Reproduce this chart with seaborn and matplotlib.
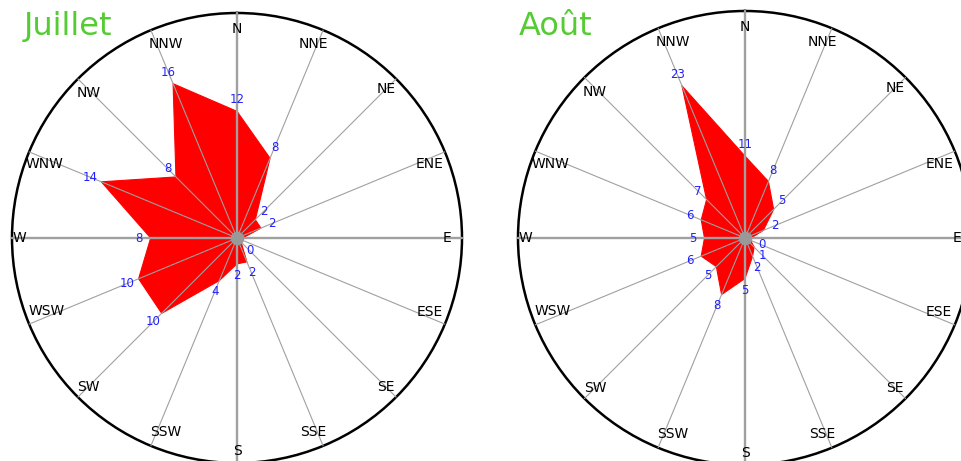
import numpy as np
import pandas as pd
import matplotlib
matplotlib.use("Agg")
import matplotlib.pyplot as plt
import seaborn as sns

# ---- data ----
directions = ["N", "NNE", "NE", "ENE", "E", "ESE", "SE", "SSE",
              "S", "SSW", "SW", "WSW", "W", "WNW", "NW", "NNW"]
juillet = [12, 8, 2, 2, 0, 0, 0, 2, 2, 4, 10, 10, 8, 14, 8, 16]
aout = [11, 8, 5, 2, 0, 0, 1, 2, 5, 8, 5, 6, 5, 6, 7, 23]
titles = ["Juillet", "Août"]

sns.set_theme(style="white")
plt.rcParams['font.family'] = ['DejaVu Sans']

W_PX, H_PX = 961, 461
fig = plt.figure(figsize=(W_PX / 100, H_PX / 100), dpi=100)
fig.patch.set_facecolor("white")

# small pixel nudges for the compass labels (x right, y up)
label_nudge = {"NNW": (9, 0), "SSW": (9, 0), "WSW": (4, 8), "W": (-7, 0),
               "ENE": (-2, -7), "ESE": (-2, 7), "WNW": (2, -7), "NW": (0, -4),
               "NNE": (-4, 0), "SSE": (-4, 0), "S": (0, -3), "N": (0, -1)}


def rose(center, R, k, r0, values, title, title_x):
    cx, cy = center
    rect = [(cx - R) / W_PX, (H_PX - cy - R) / H_PX, 2 * R / W_PX, 2 * R / H_PX]
    ax = fig.add_axes(rect, projection="polar")
    ax.set_theta_zero_location("N")
    ax.set_theta_direction(-1)
    c = r0 / k
    rmax = R / k
    theta = np.deg2rad(np.arange(len(directions)) * 22.5)
    r = np.array(values, dtype=float) + c
    df = pd.DataFrame({"theta": np.append(theta, theta[0]),
                       "r": np.append(r, r[0])})
    ax.fill(df["theta"], df["r"], color="#ff0000", lw=0, zorder=2)
    sns.lineplot(data=df, x="theta", y="r", sort=False, estimator=None,
                 color="#ff0000", lw=0.8, ax=ax, zorder=2)
    n = len(values)
    for i, t in enumerate(theta):
        cardinal = (i % 4 == 0)
        ax.plot([t, t], [0, rmax], color="#a0a0a0",
                lw=1.7 if cardinal else 0.8, zorder=3, clip_on=False)
        dx, dy = label_nudge.get(directions[i], (0, 0))
        ax.annotate(directions[i], xy=(t, rmax * 0.935), xytext=(dx * 0.72, dy * 0.72),
                    textcoords="offset points", ha="center", va="center",
                    fontsize=10, color="black", zorder=5, annotation_clip=False)
        show = values[i] > 0 or values[(i + 1) % n] > 0
        if show:
            ax.text(t, r[i] + 12 / k, str(values[i]), color="#2020ff",
                    fontsize=8.5, ha="center", va="center", zorder=4)
    ax.scatter([0], [0], s=95, color="#999999", zorder=6, clip_on=False,
               linewidths=0)
    ax.set_ylim(0, rmax)
    ax.set_xticks([])
    ax.set_yticks([])
    ax.grid(False)
    ax.set_xlabel("")
    ax.set_ylabel("")
    ax.spines["polar"].set_color("black")
    ax.spines["polar"].set_linewidth(1.8)
    ax.set_facecolor("white")
    fig.text(title_x / W_PX, 1 - 35 / H_PX, title, color="#55cc33",
             fontsize=23, va="baseline", ha="left")
    return ax


rose((237, 238), 225, 10.08, 5.7, juillet, titles[0], 24)
rose((745, 238), 227, 6.9, 6.0, aout, titles[1], 519)

fig.savefig("out.png", dpi=100, facecolor="white")
